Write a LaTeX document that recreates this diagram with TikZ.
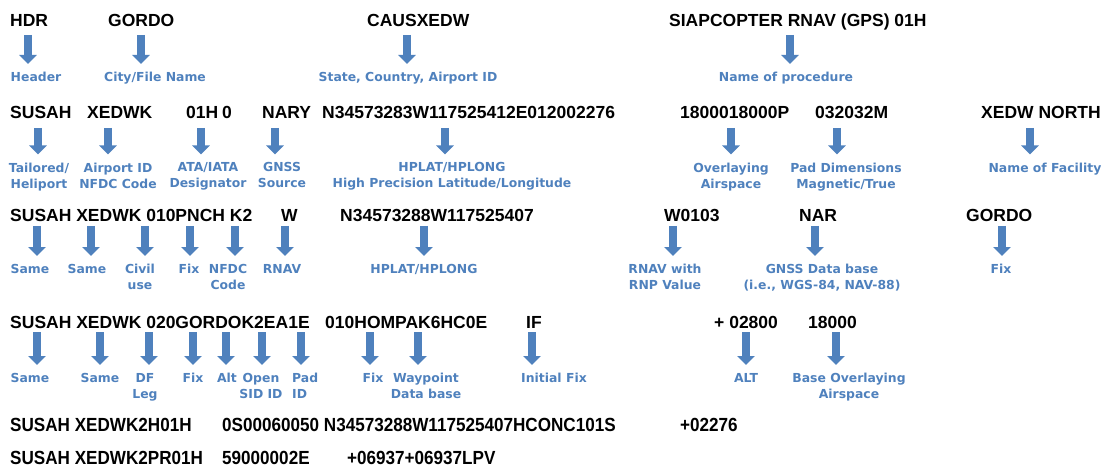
\documentclass[tikz,border=0pt]{standalone}
\usepackage{fontspec}
\newfontfamily\codefont{Liberation Sans}
\newfontfamily\labfont{DejaVu Sans}
\newfontfamily\recfont[FakeStretch=0.9]{Liberation Sans}
\usetikzlibrary{arrows.meta}
\definecolor{FieldBlue}{RGB}{79,129,189}

\begin{document}
\begin{tikzpicture}[x=1pt,y=-1pt,
    code/.style={font=\codefont\bfseries\fontsize{17.5}{20}\selectfont,inner sep=0pt,anchor=base west},
    rec/.style={font=\recfont\bfseries\fontsize{19}{21}\selectfont,inner sep=0pt,anchor=base west},
    lab/.style={font=\labfont\bfseries\fontsize{12.4}{16}\selectfont,text=FieldBlue,align=center,inner sep=0pt,anchor=north},
    fld/.style={draw=FieldBlue,line width=8pt,-{Triangle[width=17pt,length=9pt]},shorten >=8pt}]
\useasboundingbox (0,0) rectangle (1104,468);

% header record
\node[code] (hdr) at (10,27) {HDR};
\node[code] (city) at (108,27) {GORDO};
\node[code] (apt) at (367,27) {CAUSXEDW};
\node[code] (proc) at (669,27) {SIAPCOPTER RNAV (GPS) 01H};
\coordinate (aHdr) at (28,35);
\coordinate (aCity) at (141,35);
\coordinate (aApt) at (407,35);
\coordinate (aProc) at (790,35);
\node[lab] (lHdr) at (36,72) {Header};
\node[lab] (lCity) at (155,72) {City/File Name};
\node[lab] (lApt) at (408,72) {State, Country, Airport ID};
\node[lab] (lProc) at (786,72) {Name of procedure};
\draw[fld] (aHdr) -- (aHdr |- lHdr.north);
\draw[fld] (aCity) -- (aCity |- lCity.north);
\draw[fld] (aApt) -- (aApt |- lApt.north);
\draw[fld] (aProc) -- (aProc |- lProc.north);

% heliport record
\node[code] (tlr) at (10,119) {SUSAH};
\node[code] (aptid) at (87,119) {XEDWK};
\node[code] (ata) at (186,119) {01H};
\node[code] (ataz) at (222,119) {0};
\node[code] (gnss) at (262,119) {NARY};
\node[code] (hpos) at (322,119) {N34573283W117525412E012002276};
\node[code] (oas) at (680,119) {1800018000P};
\node[code] (pad) at (815,119) {032032M};
\node[code] (fac) at (981,119) {XEDW NORTH};
\coordinate (aTlr) at (38,128);
\coordinate (aAptid) at (108,128);
\coordinate (aAta) at (201,128);
\coordinate (aGnss) at (275,128);
\coordinate (aHpos) at (445,128);
\coordinate (aOas) at (731,128);
\coordinate (aPad) at (837,128);
\coordinate (aFac) at (1030,128);
\node[lab] (lTlr) at (39,162.5) {Tailored/\\Heliport};
\node[lab] (lAptid) at (118,162.5) {Airport ID\\NFDC Code};
\node[lab] (lAta) at (208,162.5) {ATA/IATA\\Designator};
\node[lab] (lGnss) at (282,162.5) {GNSS\\Source};
\node[lab] (lHpos) at (452,162.5) {HPLAT/HPLONG\\High Precision Latitude/Longitude};
\node[lab] (lOas) at (731,162.5) {Overlaying\\Airspace};
\node[lab] (lPad) at (846,162.5) {Pad Dimensions\\Magnetic/True};
\node[lab] (lFac) at (1045,162.5) {Name of Facility};
\draw[fld] (aTlr) -- (aTlr |- lTlr.north);
\draw[fld] (aAptid) -- (aAptid |- lAptid.north);
\draw[fld] (aAta) -- (aAta |- lAta.north);
\draw[fld] (aGnss) -- (aGnss |- lGnss.north);
\draw[fld] (aHpos) -- (aHpos |- lHpos.north);
\draw[fld] (aOas) -- (aOas |- lOas.north);
\draw[fld] (aPad) -- (aPad |- lPad.north);
\draw[fld] (aFac) -- (aFac |- lFac.north);

% fix record
\node[code] (fixid) at (10,221.5) {SUSAH XEDWK 010PNCH K2};
\node[code] (rnav) at (281,221.5) {W};
\node[code] (fpos) at (340,221.5) {N34573288W117525407};
\node[code] (rnp) at (664,221.5) {W0103};
\node[code] (dbase) at (799,221.5) {NAR};
\node[code] (fix) at (966,221.5) {GORDO};
\coordinate (aSameA) at (37,226);
\coordinate (aSameB) at (91,226);
\coordinate (aCivil) at (145,226);
\coordinate (aFixA) at (190,226);
\coordinate (aNfdc) at (235,226);
\coordinate (aRnav) at (285,226);
\coordinate (aFpos) at (424,226);
\coordinate (aRnp) at (673,226);
\coordinate (aDbase) at (815,226);
\coordinate (aFix) at (1002,226);
\node[lab] (lSameA) at (30,264) {Same};
\node[lab] (lSameB) at (87,264) {Same};
\node[lab] (lCivil) at (140,264) {Civil\\use};
\node[lab] (lFixA) at (189,264) {Fix};
\node[lab] (lNfdc) at (228,264) {NFDC\\Code};
\node[lab] (lRnav) at (282,264) {RNAV};
\node[lab] (lFpos) at (424,264) {HPLAT/HPLONG};
\node[lab] (lRnp) at (665,264) {RNAV with\\RNP Value};
\node[lab] (lDbase) at (822,264) {GNSS Data base\\(i.e., WGS-84, NAV-88)};
\node[lab] (lFix) at (1001,264) {Fix};
\draw[fld] (aSameA) -- (aSameA |- lSameA.north);
\draw[fld] (aSameB) -- (aSameB |- lSameB.north);
\draw[fld] (aCivil) -- (aCivil |- lCivil.north);
\draw[fld] (aFixA) -- (aFixA |- lFixA.north);
\draw[fld] (aNfdc) -- (aNfdc |- lNfdc.north);
\draw[fld] (aRnav) -- (aRnav |- lRnav.north);
\draw[fld] (aFpos) -- (aFpos |- lFpos.north);
\draw[fld] (aRnp) -- (aRnp |- lRnp.north);
\draw[fld] (aDbase) -- (aDbase |- lDbase.north);
\draw[fld] (aFix) -- (aFix |- lFix.north);

% approach leg record
\node[code] (legid) at (10,328) {SUSAH XEDWK 020GORDOK2EA1E};
\node[code] (wpt) at (325,328) {010HOMPAK6HC0E};
\node[code] (iaf) at (526,328) {IF};
\node[code] (alt) at (714,328) {+ 02800};
\node[code] (base) at (808,328) {18000};
\coordinate (aSameC) at (37,332);
\coordinate (aSameD) at (100,332);
\coordinate (aDf) at (149,332);
\coordinate (aFixB) at (193,332);
\coordinate (aAltB) at (226,332);
\coordinate (aSid) at (262,332);
\coordinate (aPadid) at (301,332);
\coordinate (aFixC) at (370,332);
\coordinate (aWpt) at (418,332);
\coordinate (aIaf) at (532,332);
\coordinate (aAlt) at (746,332);
\coordinate (aBase) at (836,332);
\node[lab] (lSameC) at (30,373) {Same};
\node[lab] (lSameD) at (100,373) {Same};
\node[lab] (lDf) at (145,373) {DF\\Leg};
\node[lab] (lFixB) at (193,373) {Fix};
\node[lab] (lAltB) at (227,373) {Alt};
\node[lab] (lSid) at (261,373) {Open\\SID ID};
\node[lab,align=left,anchor=north west] (lPadid) at (292,373) {Pad\\ID};
\node[lab] (lFixC) at (373,373) {Fix};
\node[lab] (lWpt) at (426,373) {Waypoint\\Data base};
\node[lab] (lIaf) at (554,373) {Initial Fix};
\node[lab] (lAlt) at (746,373) {ALT};
\node[lab] (lBase) at (849,373) {Base Overlaying\\Airspace};
\draw[fld] (aSameC) -- (aSameC |- lSameC.north);
\draw[fld] (aSameD) -- (aSameD |- lSameD.north);
\draw[fld] (aDf) -- (aDf |- lDf.north);
\draw[fld] (aFixB) -- (aFixB |- lFixB.north);
\draw[fld] (aAltB) -- (aAltB |- lAltB.north);
\draw[fld] (aSid) -- (aSid |- lSid.north);
\draw[fld] (aPadid) -- (aPadid |- lPadid.north);
\draw[fld] (aFixC) -- (aFixC |- lFixC.north);
\draw[fld] (aWpt) -- (aWpt |- lWpt.north);
\draw[fld] (aIaf) -- (aIaf |- lIaf.north);
\draw[fld] (aAlt) -- (aAlt |- lAlt.north);
\draw[fld] (aBase) -- (aBase |- lBase.north);

% records without callouts
\node[rec] (helA) at (10,431) {SUSAH XEDWK2H01H};
\node[rec] (helB) at (222,431) {0S00060050 N34573288W117525407HCONC101S};
\node[rec] (helC) at (680,431) {+02276};
\node[rec] (prA) at (10,464) {SUSAH XEDWK2PR01H};
\node[rec] (prB) at (222,464) {59000002E};
\node[rec] (prC) at (347,464) {+06937+06937LPV};
\end{tikzpicture}
\end{document}
